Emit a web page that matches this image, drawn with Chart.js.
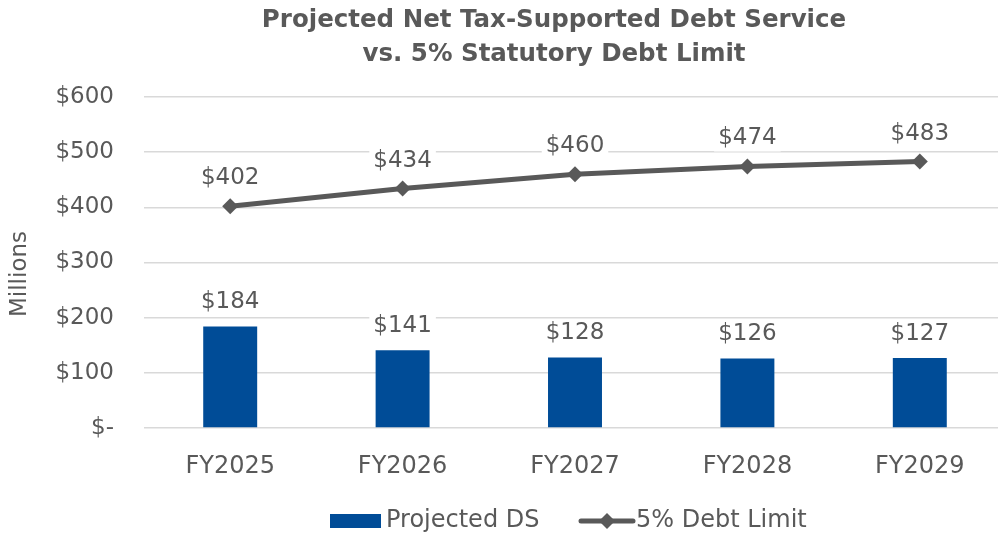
<!DOCTYPE html>
<html>
<head>
<meta charset="utf-8">
<script src="https://cdn.jsdelivr.net/npm/chart.js@4/dist/chart.umd.min.js"></script>
<style>
html,body{margin:0;padding:0;background:#fff;overflow:hidden;}
#wrap{width:998px;height:535px;overflow:hidden;position:relative;}
#c{display:block;max-width:none !important;width:1006px !important;height:535px !important;}
</style>
</head>
<body>
<div id="wrap"><canvas id="c" width="1006" height="535"></canvas></div>
<script>
const categories = ['FY2025','FY2026','FY2027','FY2028','FY2029'];
const projectedDS = [184, 141, 128, 126, 127];
const debtLimit = [402, 434, 460, 474, 483];
const yTicks = [0, 100, 200, 300, 400, 500, 600];
const titleLines = ['Projected Net Tax-Supported Debt Service', 'vs. 5% Statutory Debt Limit'];
const yAxisTitle = 'Millions';

const GRAY = '#595959';
const BLUE = '#004C97';
const FONT = "'DejaVu Sans', 'Open Sans', sans-serif";

function money(v){ return v === 0 ? '$-' : '$' + v; }

const textPlugin = {
  id: 'texts',
  afterDraw(chart){
    const ctx = chart.ctx;
    ctx.save();
    ctx.fillStyle = GRAY;
    ctx.textAlign = 'center';
    ctx.textBaseline = 'middle';
    ctx.font = 'bold 24.5px ' + FONT;
    ctx.fillText(titleLines[0], 554, 21);
    ctx.fillText(titleLines[1], 554, 55);
    ctx.translate(20, 274);
    ctx.rotate(-Math.PI / 2);
    ctx.font = '23px ' + FONT;
    ctx.fillText(yAxisTitle, 0, 0);
    ctx.restore();
  }
};

const labelPlugin = {
  id: 'valueLabels',
  afterDatasetsDraw(chart){
    const ctx = chart.ctx;
    ctx.save();
    ctx.font = '23px ' + FONT;
    ctx.textAlign = 'center';
    ctx.textBaseline = 'middle';
    chart.data.datasets.forEach((ds, di) => {
      const meta = chart.getDatasetMeta(di);
      const off = ds.type === 'line' ? 28 : 24;
      meta.data.forEach((el, i) => {
        const txt = '$' + ds.data[i];
        const x = el.x, y = el.y - off;
        const w = ctx.measureText(txt).width;
        ctx.fillStyle = '#fff';
        ctx.fillRect(x - w/2 - 4, y - 13, w + 8, 26);
        ctx.fillStyle = GRAY;
        ctx.fillText(txt, x, y);
      });
    });
    ctx.restore();
  }
};

const legendPlugin = {
  id: 'customLegend',
  afterDraw(chart){
    const ctx = chart.ctx;
    const bar = chart.data.datasets.find(d => d.type === 'bar');
    const line = chart.data.datasets.find(d => d.type === 'line');
    ctx.save();
    const y = 521;
    ctx.font = '24px ' + FONT;
    ctx.textBaseline = 'middle';
    ctx.textAlign = 'left';
    ctx.fillStyle = bar.backgroundColor;
    ctx.fillRect(330, y - 7, 51, 14);
    ctx.fillStyle = GRAY;
    ctx.fillText(bar.label, 386, y);
    ctx.strokeStyle = line.borderColor;
    ctx.lineWidth = 5;
    ctx.lineCap = 'round';
    ctx.beginPath(); ctx.moveTo(581, y); ctx.lineTo(633, y); ctx.stroke();
    ctx.fillStyle = line.borderColor;
    ctx.beginPath();
    ctx.moveTo(607, y - 8); ctx.lineTo(615, y); ctx.lineTo(607, y + 8); ctx.lineTo(599, y);
    ctx.closePath(); ctx.fill();
    ctx.fillStyle = GRAY;
    ctx.fillText(line.label, 636, y);
    ctx.restore();
  }
};

new Chart(document.getElementById('c'), {
  type: 'bar',
  data: {
    labels: categories,
    datasets: [
      {
        type: 'line',
        label: '5% Debt Limit',
        data: debtLimit,
        borderColor: GRAY,
        backgroundColor: GRAY,
        borderWidth: 5,
        pointStyle: 'rectRot',
        pointRadius: 8,
        pointBackgroundColor: GRAY,
        pointBorderWidth: 0,
        tension: 0,
        order: 0
      },
      {
        type: 'bar',
        label: 'Projected DS',
        data: projectedDS,
        backgroundColor: BLUE,
        borderWidth: 0,
        barPercentage: 0.313,
        categoryPercentage: 1.0,
        order: 1
      }
    ]
  },
  options: {
    responsive: false,
    animation: false,
    layout: { autoPadding: false, padding: { left: 0, right: 0, top: 97, bottom: 0 } },
    plugins: {
      legend: { display: false },
      tooltip: { enabled: false },
      title: { display: false }
    },
    scales: {
      x: {
        grid: { display: false, drawTicks: false },
        border: { display: false },
        ticks: { color: GRAY, font: { family: FONT, size: 24 }, padding: 24 },
        afterFit(s){ s.height = 107; s.paddingLeft = 0; s.paddingRight = 0; }
      },
      y: {
        min: 0, max: 600,
        afterBuildTicks(s){ s.ticks = yTicks.map(v => ({ value: v })); },
        grid: { color: '#D9D9D9', lineWidth: 1.5, drawTicks: false },
        border: { display: false },
        ticks: { color: GRAY, font: { family: FONT, size: 23 }, padding: 30, callback: v => money(v) },
        title: { display: false },
        afterFit(s){ s.width = 144; }
      }
    }
  },
  plugins: [labelPlugin, legendPlugin, textPlugin]
});
</script>
</body>
</html>
